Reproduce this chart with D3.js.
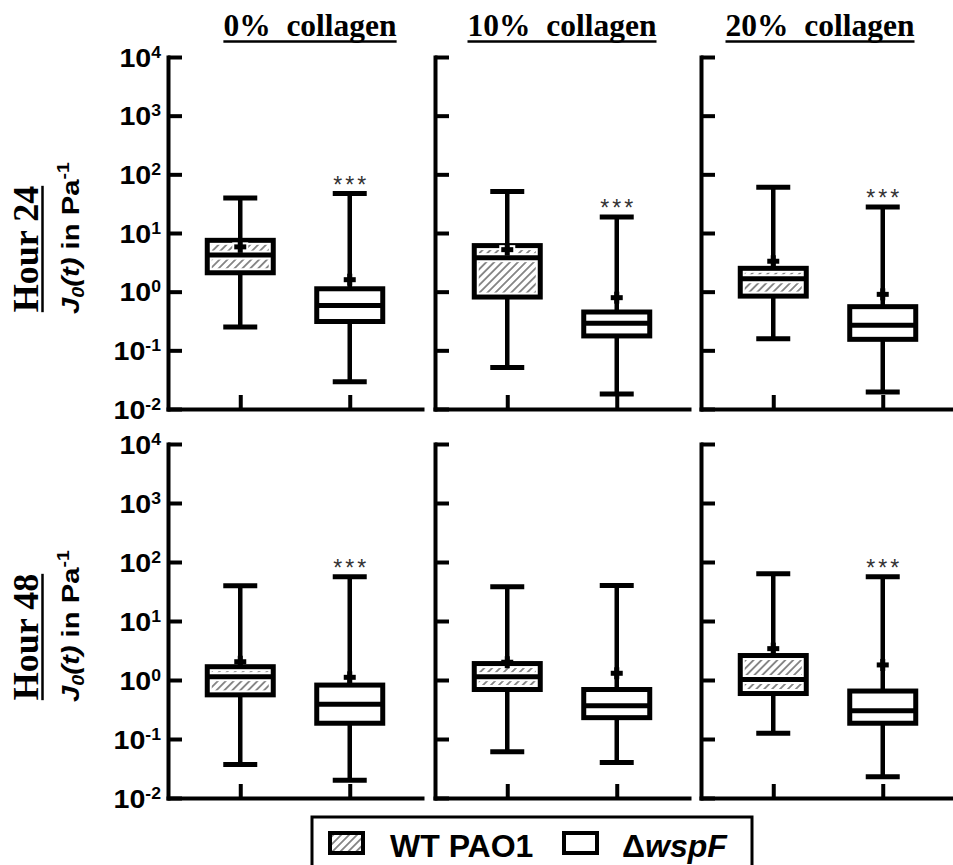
<!DOCTYPE html>
<html>
<head>
<meta charset="utf-8">
<script src="https://cdn.jsdelivr.net/npm/d3@7"></script>
<style>
  body { margin: 0; background: #fff; }
  svg { display: block; }
</style>
</head>
<body>
<svg id="chart" width="953" height="865"></svg>
<script>
// ---- data ----
const conditions = ["0%", "10%", "20%"];
const hours = ["Hour 24", "Hour 48"];
const strains = ["WT PAO1", "ΔwspF"];
const yTickValues = [1e-2, 1e-1, 1e0, 1e1, 1e2, 1e3, 1e4];
const yTickExponents = ["-2", "-1", "0", "1", "2", "3", "4"];

// Box statistics, ordered Hour 24 (0%, 10%, 20%) then Hour 48 (0%, 10%, 20%)
const wtMin  = [0.25, 0.051, 0.158, 0.037, 0.061, 0.125];
const wtQ1   = [2.1, 0.81, 0.84, 0.56, 0.69, 0.59];
const wtMed  = [4.2, 3.8, 1.66, 1.14, 1.14, 1.02];
const wtQ3   = [7.5, 6.1, 2.5, 1.68, 1.9, 2.6];
const wtMax  = [39.5, 51, 60, 39.6, 38, 63];
const wtMean = [5.8, 5.2, 3.3, 2.04, 2.0, 3.4];

const mutMin  = [0.029, 0.018, 0.0195, 0.020, 0.040, 0.023];
const mutQ1   = [0.31, 0.176, 0.154, 0.185, 0.23, 0.185];
const mutMed  = [0.58, 0.29, 0.267, 0.39, 0.367, 0.30];
const mutQ3   = [1.12, 0.45, 0.555, 0.82, 0.69, 0.65];
const mutMax  = [47, 18.8, 27.7, 56, 40, 56];
const mutMean = [1.6, 0.79, 0.9, 1.11, 1.3, 1.8];

const sigLabels = ["***", "***", "***", "***", "", "***"];

// ---- layout ----
const SANS = "'Liberation Sans', Arial, sans-serif";
const SERIF = "'Liberation Serif', 'Times New Roman', serif";
const colX = [168, 435, 701];
const panelW = 254;
const rows = [{ top: 57, bottom: 409 }, { top: 444, bottom: 798 }];
const titleShift = [15, 0, -8];
const boxW = 66, capW = 34;

const svg = d3.select("#chart");
svg.append("rect").attr("width", 953).attr("height", 865).attr("fill", "#fff");

const defs = svg.append("defs");
const pat = defs.append("pattern")
  .attr("id", "hatch")
  .attr("patternUnits", "userSpaceOnUse")
  .attr("width", 5.6).attr("height", 5.6)
  .attr("patternTransform", "rotate(45)");
pat.append("rect").attr("width", 5.6).attr("height", 5.6).attr("fill", "#fff");
pat.append("line")
  .attr("x1", 2.8).attr("y1", 0).attr("x2", 2.8).attr("y2", 5.6)
  .attr("stroke", "#505050").attr("stroke-width", 1.3);

function statsFor(s, i) {
  return s === 0
    ? { min: wtMin[i], q1: wtQ1[i], med: wtMed[i], q3: wtQ3[i], max: wtMax[i], mean: wtMean[i], sig: "" }
    : { min: mutMin[i], q1: mutQ1[i], med: mutMed[i], q3: mutQ3[i], max: mutMax[i], mean: mutMean[i], sig: sigLabels[i] };
}

rows.forEach((row, r) => {
  const y = d3.scaleLog().domain([1e-2, 1e4]).range([row.bottom, row.top]);

  conditions.forEach((cond, c) => {
    const i = r * conditions.length + c;
    const x0 = colX[c];
    const x = d3.scalePoint().domain(strains).range([x0, x0 + panelW]).padding(0.66);
    const g = svg.append("g");

    // y axis, ticks pointing inward
    g.append("g")
      .attr("transform", `translate(${x0},0)`)
      .call(d3.axisRight(y).tickValues(yTickValues).tickSize(14).tickSizeOuter(0).tickFormat(""))
      .call(a => {
        a.select(".domain").attr("stroke-width", 4).attr("stroke-linecap", "square");
        a.selectAll(".tick line").attr("stroke-width", 4);
      });

    // x axis, ticks pointing up
    g.append("g")
      .attr("transform", `translate(0,${row.bottom})`)
      .call(d3.axisTop(x).tickSize(14).tickSizeOuter(0).tickFormat(""))
      .call(a => {
        a.select(".domain").attr("stroke-width", 4).attr("stroke-linecap", "square");
        a.selectAll(".tick line").attr("stroke-width", 4);
      });

    strains.forEach((strain, s) => {
      const d = statsFor(s, i);
      const cx = x(strain);
      const yMax = y(d.max), yMin = y(d.min), yQ1 = y(d.q1), yQ3 = y(d.q3), yMed = y(d.med), yMean = y(d.mean);

      // whiskers
      g.append("line").attr("x1", cx).attr("x2", cx).attr("y1", yMax).attr("y2", yQ3)
        .attr("stroke", "#000").attr("stroke-width", 4.5);
      g.append("line").attr("x1", cx).attr("x2", cx).attr("y1", yQ1).attr("y2", yMin)
        .attr("stroke", "#000").attr("stroke-width", 4.5);
      [yMax, yMin].forEach(yy => {
        g.append("line").attr("x1", cx - capW / 2).attr("x2", cx + capW / 2).attr("y1", yy).attr("y2", yy)
          .attr("stroke", "#000").attr("stroke-width", 5);
      });

      // box
      g.append("rect").attr("x", cx - boxW / 2).attr("y", yQ3).attr("width", boxW).attr("height", yQ1 - yQ3)
        .attr("fill", "#fff").attr("stroke", "#000").attr("stroke-width", 5);

      if (s === 0) {
        const inset = 4.5, gapM = 4.5;
        const xl = cx - boxW / 2 + inset, w = boxW - 2 * inset;
        const parts = [[yQ3 + inset, yMed - gapM], [yMed + gapM, yQ1 - inset]];
        parts.forEach(([a, b]) => {
          if (b - a > 0.5) {
            g.append("rect").attr("x", xl).attr("y", a).attr("width", w).attr("height", b - a)
              .attr("fill", "url(#hatch)");
          }
        });
      }

      // median
      g.append("line").attr("x1", cx - boxW / 2).attr("x2", cx + boxW / 2).attr("y1", yMed).attr("y2", yMed)
        .attr("stroke", "#000").attr("stroke-width", 5);

      // mean marker (+)
      if (d.mean < d.q3 && d.mean > d.q1) {
        g.append("rect").attr("x", cx - 8).attr("y", yMean - 4.5).attr("width", 16).attr("height", 9).attr("fill", "#fff");
      }
      g.append("rect").attr("x", cx - 6).attr("y", yMean - 2.5).attr("width", 12).attr("height", 5).attr("fill", "#000");
      g.append("rect").attr("x", cx - 2.5).attr("y", yMean - 6).attr("width", 5).attr("height", 12).attr("fill", "#000");

      // significance
      if (d.sig) {
        g.append("text").attr("x", cx + 1.5).attr("y", yMax - 1)
          .attr("text-anchor", "middle")
          .attr("font-family", SANS).attr("font-size", 23).attr("letter-spacing", 3)
          .attr("fill", "#333").text(d.sig);
      }
    });

    // column titles
    if (r === 0) {
      const tx = x0 + panelW / 2 + titleShift[c];
      const t = svg.append("text").attr("x", tx).attr("y", 36)
        .attr("text-anchor", "middle").attr("font-family", SERIF).attr("font-weight", "bold")
        .attr("font-size", 31.5).style("white-space", "pre").text(cond + "  collagen");
      const len = t.node().getComputedTextLength();
      svg.append("line").attr("x1", tx - len / 2).attr("x2", tx + len / 2).attr("y1", 41.5).attr("y2", 41.5)
        .attr("stroke", "#000").attr("stroke-width", 2.5);
    }

    // tick labels on the first column
    if (c === 0) {
      yTickValues.forEach((v, k) => {
        const tg = svg.append("g").attr("transform", `translate(161,${y(v) + 9.5}) scale(1.1,1)`);
        const t = tg.append("text").attr("text-anchor", "end")
          .attr("font-family", SANS).attr("font-weight", "bold").attr("font-size", 26).attr("fill", "#000");
        t.append("tspan").text("10");
        t.append("tspan").attr("font-size", 16).attr("dy", -9).text(yTickExponents[k]);
      });
    }
  });

  // row labels
  const mid = (row.top + row.bottom) / 2;
  const hg = svg.append("g").attr("transform", `translate(38,${mid + 16}) rotate(-90)`);
  const ht = hg.append("text").attr("text-anchor", "middle")
    .attr("font-family", SERIF).attr("font-weight", "bold").attr("font-size", 36).text(hours[r]);
  const hl = ht.node().getComputedTextLength();
  hg.append("line").attr("x1", -hl / 2).attr("x2", hl / 2).attr("y1", 4.5).attr("y2", 4.5)
    .attr("stroke", "#000").attr("stroke-width", 2.5);

  const yg = svg.append("g").attr("transform", `translate(79,${mid + 5}) rotate(-90) scale(1.22,1)`);
  const yt = yg.append("text").attr("text-anchor", "middle")
    .attr("font-family", SANS).attr("font-weight", "bold").attr("font-size", 24);
  yt.append("tspan").attr("font-style", "italic").text("J");
  yt.append("tspan").attr("font-style", "italic").attr("font-size", 16).attr("dy", 5).text("0");
  yt.append("tspan").attr("font-style", "italic").attr("dy", -5).text("(t)");
  yt.append("tspan").text(" in Pa");
  yt.append("tspan").attr("font-size", 16).attr("dy", -10).text("-1");
});

// legend
const lg = svg.append("g");
lg.append("rect").attr("x", 312).attr("y", 817).attr("width", 440).attr("height", 70)
  .attr("fill", "#fff").attr("stroke", "#000").attr("stroke-width", 3);
lg.append("rect").attr("x", 330).attr("y", 833).attr("width", 33).attr("height", 20)
  .attr("fill", "url(#hatch)").attr("stroke", "#000").attr("stroke-width", 4);
lg.append("text").attr("x", 390).attr("y", 857)
  .attr("font-family", SANS).attr("font-weight", "bold").attr("font-size", 32).text(strains[0]);
lg.append("rect").attr("x", 564).attr("y", 833).attr("width", 33).attr("height", 20)
  .attr("fill", "#fff").attr("stroke", "#000").attr("stroke-width", 4);
const lt = lg.append("text").attr("x", 622).attr("y", 857)
  .attr("font-family", SANS).attr("font-weight", "bold").attr("font-size", 32);
lt.append("tspan").text("Δ");
lt.append("tspan").attr("font-style", "italic").text("wspF");
</script>
</body>
</html>
